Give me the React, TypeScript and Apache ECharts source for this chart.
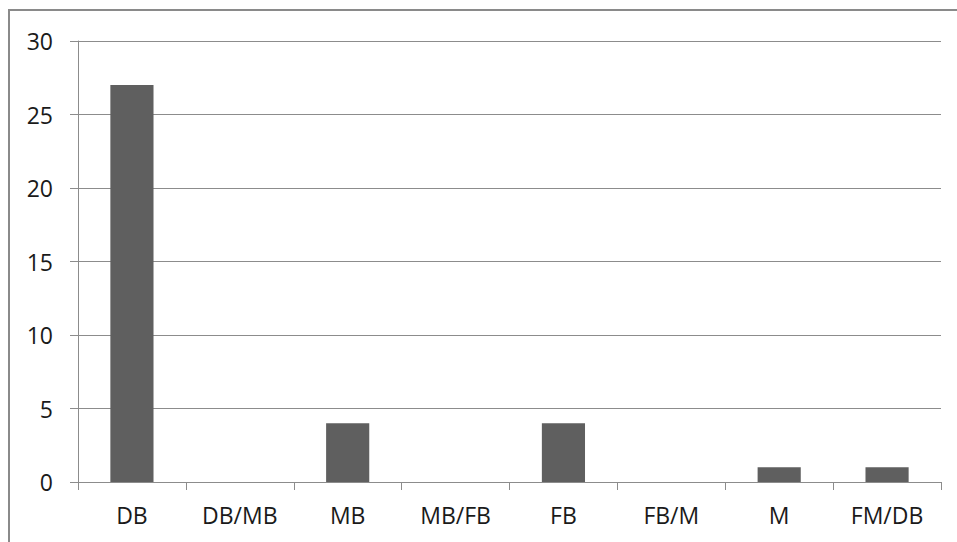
import React, { useEffect, useRef } from "react";
import * as echarts from "echarts";

const categories = ["DB", "DB/MB", "MB", "MB/FB", "FB", "FB/M", "M", "FM/DB"];
const values = [27, 0, 4, 0, 4, 0, 1, 1];
const yMin = 0;
const yMax = 30;
const yInterval = 5;

export default function App() {
  const ref = useRef<HTMLDivElement>(null);
  useEffect(() => {
    if (!ref.current) return;
    const chart = echarts.init(ref.current, null, { renderer: "svg" });
    const font = "'Open Sans', 'Liberation Sans', sans-serif";
    chart.setOption({
      animation: false,
      backgroundColor: "#ffffff",
      grid: { left: 78, top: 41, right: 16, bottom: 60, containLabel: false },
      graphic: [
        {
          type: "rect",
          shape: { x: 9, y: 10, width: 1000, height: 600 },
          style: { fill: "none", stroke: "#8a8a8a", lineWidth: 2 },
          silent: true,
        },
      ],
      xAxis: {
        type: "category",
        data: categories,
        axisLine: { show: true, lineStyle: { color: "#8c8c8c", width: 1 } },
        axisTick: { show: true, length: 8, alignWithLabel: false, lineStyle: { color: "#8c8c8c" } },
        axisLabel: { color: "#1a1a1a", fontSize: 23, fontFamily: font, margin: 21, interval: 0 },
        splitLine: { show: false },
      },
      yAxis: {
        type: "value",
        min: yMin,
        max: yMax,
        interval: yInterval,
        axisLine: { show: true, lineStyle: { color: "#8c8c8c", width: 1 } },
        axisTick: { show: true, length: 8, lineStyle: { color: "#8c8c8c" } },
        axisLabel: { color: "#1a1a1a", fontSize: 23, fontFamily: font, margin: 25 },
        splitLine: { show: true, lineStyle: { color: "#8c8c8c", width: 1 } },
      },
      series: [
        {
          type: "bar",
          data: values,
          barWidth: "40%",
          itemStyle: { color: "#5f5f5f", borderWidth: 0 },
        },
      ],
    });
    return () => chart.dispose();
  }, []);
  return (
    <div
      ref={ref}
      style={{ position: "fixed", left: 0, top: 0, width: 957, height: 542, background: "#fff" }}
    />
  );
}
